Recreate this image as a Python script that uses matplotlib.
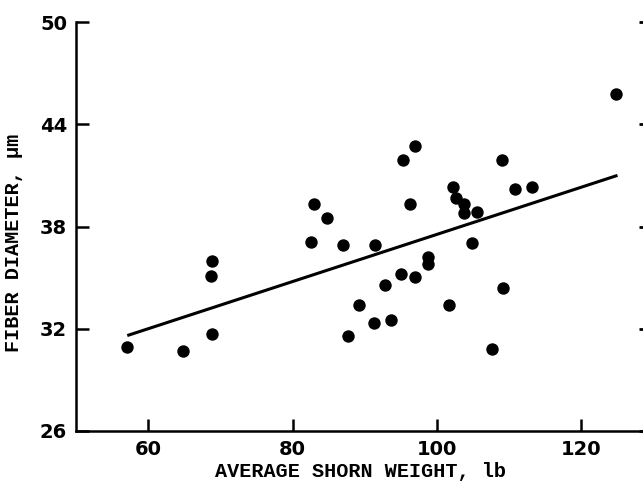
import matplotlib
matplotlib.use("Agg")
import matplotlib.pyplot as plt

# shorn weight (lb) vs fiber diameter (um)
weight = [57.1, 64.8, 68.7, 68.9, 68.9, 82.6, 83.0, 84.8, 87.0, 91.4,
          87.7, 89.2, 91.3, 93.6, 92.8, 95.0, 97.0, 98.7, 98.7, 101.6,
          104.9, 96.2, 95.3, 96.9, 102.2, 102.6, 103.7, 103.8, 105.5, 109.0,
          110.8, 113.1, 124.8, 109.1, 107.6]
diameter = [30.9, 30.7, 35.1, 36.0, 31.7, 37.1, 39.3, 38.5, 36.9, 36.9,
            31.6, 33.4, 32.35, 32.5, 34.55, 35.2, 35.05, 36.2, 35.8, 33.4,
            37.05, 39.3, 41.9, 42.7, 40.3, 39.7, 39.3, 38.8, 38.85, 41.9,
            40.2, 40.3, 45.8, 34.4, 30.8]

# fitted line end points
fit_x = [57.1, 125.0]
fit_y = [31.6, 41.0]

xticks = [60, 80, 100, 120]
yticks = [26, 32, 38, 44, 50]

fig = plt.figure(figsize=(6.43, 4.82), dpi=100)
ax = fig.add_axes([76 / 643, 51 / 482, (645 - 76) / 643, 409 / 482])

ax.scatter(weight, diameter, s=80, color="black", zorder=3, linewidths=0)
ax.plot(fit_x, fit_y, color="black", lw=2.2, solid_capstyle="butt")

ax.set_xlim(50, 50 + (645 - 76) / 7.22)
ax.set_ylim(26, 50)
ax.set_xticks(xticks)
ax.set_yticks(yticks)

for side in ["top", "right"]:
    ax.spines[side].set_visible(False)
for side in ["left", "bottom"]:
    ax.spines[side].set_linewidth(1.8)

ax.tick_params(axis="both", direction="in", length=9, width=1.8, pad=6.5,
               labelsize=14)
for lab in ax.get_xticklabels() + ax.get_yticklabels():
    lab.set_fontweight("bold")
    lab.set_family("DejaVu Sans")

# short tick stubs on the right edge
sec = ax.secondary_yaxis("right")
sec.set_yticks(yticks)
sec.tick_params(direction="in", length=4, width=2, labelright=False)
sec.spines["right"].set_visible(False)

ax.set_xlabel("AVERAGE SHORN WEIGHT, lb", family="Liberation Mono",
              fontweight="bold", fontsize=14.5, labelpad=2)
ax.set_ylabel("FIBER DIAMETER, \u03bcm", family="Liberation Mono",
              fontweight="bold", fontsize=14.5)
ax.yaxis.set_label_coords(-0.093, 0.46)

fig.savefig("out.png", dpi=100)
